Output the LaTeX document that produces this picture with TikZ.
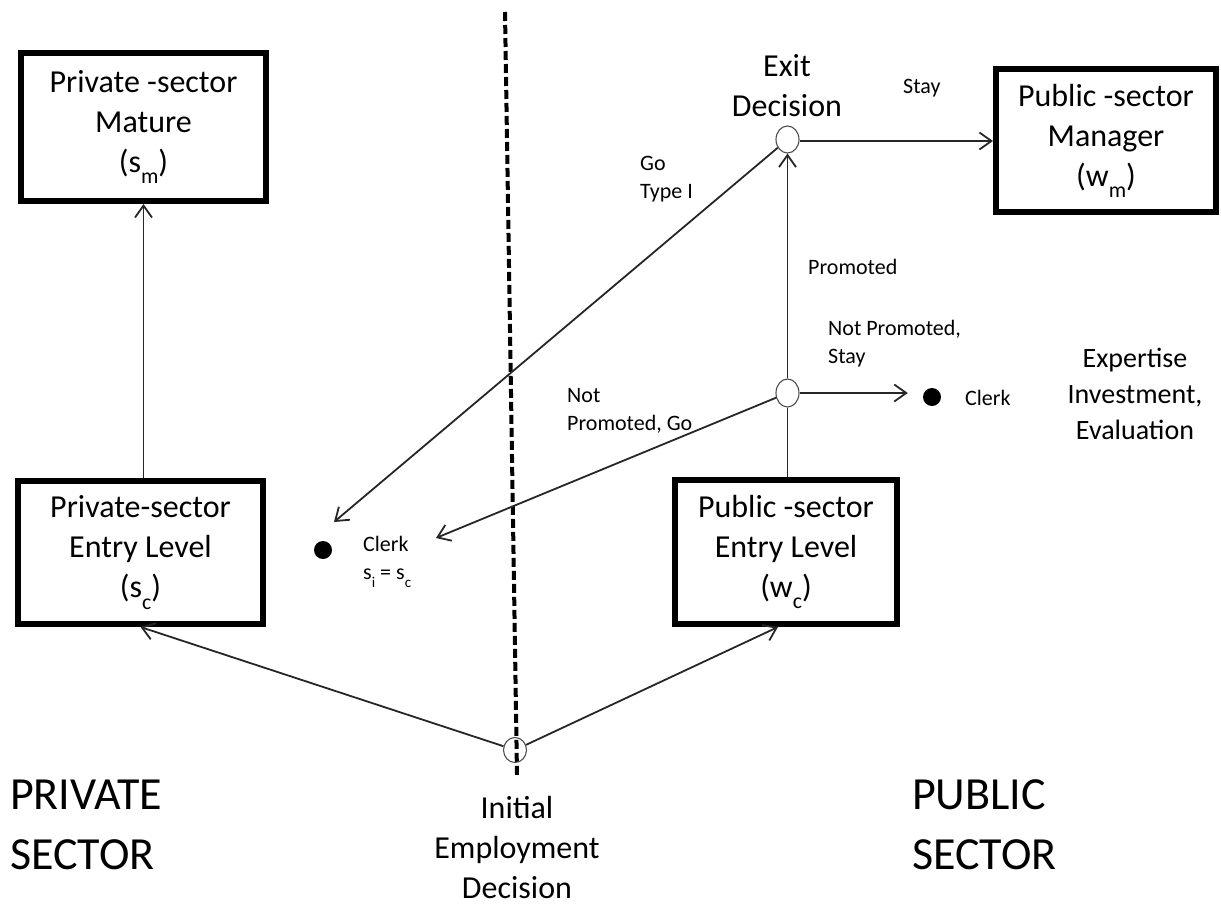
\documentclass[tikz,border=0pt]{standalone}
\usepackage{fontspec}
\setmainfont{Carlito}
\usepackage{graphicx}
\usetikzlibrary{arrows.meta,shapes.geometric,calc}
\newcommand{\lsub}[1]{\raisebox{-0.35em}{\scalebox{0.68}{#1}}}
\begin{document}
\begin{tikzpicture}[x=1pt,y=-1pt,
  box/.style={draw, line width=6pt, inner sep=0pt, align=center, font=\fontsize{32}{40}\selectfont},
  dec/.style={draw=black!70, line width=1.1pt, ellipse, inner sep=0pt, minimum width=23pt, minimum height=27pt},
  dot/.style={circle, fill=black, inner sep=0pt, minimum size=18pt},
  conn/.style={draw=black!85, line width=1.8pt},
  arr/.style={conn, -{Straight Barb[length=12pt,width=17pt]}},
  lab/.style={font=\fontsize{22}{28}\selectfont, align=left, inner sep=0pt},
  bigtxt/.style={font=\fontsize{32}{40}\selectfont, align=center, inner sep=0pt},
  hugetxt/.style={font=\fontsize{46}{60}\selectfont, align=left, inner sep=0pt},
  divider/.style={line width=4pt, dash pattern=on 9pt off 4pt}
]
\useasboundingbox (0,0) rectangle (1221,905);

% divider
\coordinate (divtop) at (505,12);
\coordinate (divbot) at (517,775);
\draw[divider] (divtop) -- (divbot);

% boxes
\node[box, minimum width=245pt, minimum height=148pt] (pm) at (143.5,127) {Private -sector\\Mature\\(s\lsub{m})};
\node[box, minimum width=245pt, minimum height=143pt] (pe) at (140.5,552.5) {Private-sector\\Entry Level\\(s\lsub{c})};
\node[box, minimum width=222pt, minimum height=144pt] (pu) at (786,552) {Public -sector\\Entry Level\\(w\lsub{c})};
\node[box, minimum width=220pt, minimum height=143pt] (pg) at (1106,140.5) {Public -sector\\Manager\\(w\lsub{m})};

% decision points
\node[dec, minimum height=25pt] (ini) at (515,750) {};
\node[dec] (ex) at (787.5,139.5) {};
\node[dec, minimum height=28pt] (mid) at (787.5,393) {};

% dots
\node[dot] (dl) at (323,550) {};
\node[dot] (dr) at (932,397) {};

% arrow tips
\coordinate (tipA) at (334,522);
\coordinate (tipB) at (436,538);

% connectors
\draw[arr] (ini) -- (pe.south);
\draw[arr] (ini) -- ([xshift=-8pt]pu.south);
\draw[arr] (pm.south |- pe.north) -- (pm.south);
\draw[conn] (mid |- pu.north) -- (mid);
\draw[arr] (mid) -- (ex);
\draw[arr, shorten >=15pt] (mid.east) -- (mid.east -| dr.west);
\draw[arr] (mid) -- (tipB);
\draw[arr] (ex) -- (tipA);
\draw[arr] ([yshift=-1.5pt]ex.east) -- ([yshift=-1.5pt]ex.east -| pg.west);

% labels
\node[lab, anchor=west] (lstay) at (903,88) {Stay};
\node[lab, anchor=west] (lgo) at (640,179) {Go\\Type I};
\node[lab, anchor=west] (lprom) at (808,267) {Promoted};
\node[lab, anchor=west] (lnps) at (828,344) {Not Promoted,\\Stay};
\node[lab, anchor=west] (lnpg) at (567,411) {Not\\Promoted, Go};
\node[lab, anchor=west] (lclr) at (965,398) {Clerk};
\node[lab, anchor=west] (lcll) at (363,562) {Clerk\\s\lsub{i} = s\lsub{c}};

\node[bigtxt] (tex) at (787,86) {Exit\\Decision};
\node[bigtxt] (tini) at (517,847) {Initial\\Employment\\Decision};
\node[bigtxt, font=\fontsize{28}{36}\selectfont] (texp) at (1135,394) {Expertise\\Investment,\\Evaluation};

\node[hugetxt, anchor=west] (tpriv) at (10,825) {PRIVATE\\SECTOR};
\node[hugetxt, anchor=west] (tpub) at (912,825) {PUBLIC\\SECTOR};
\end{tikzpicture}
\end{document}
